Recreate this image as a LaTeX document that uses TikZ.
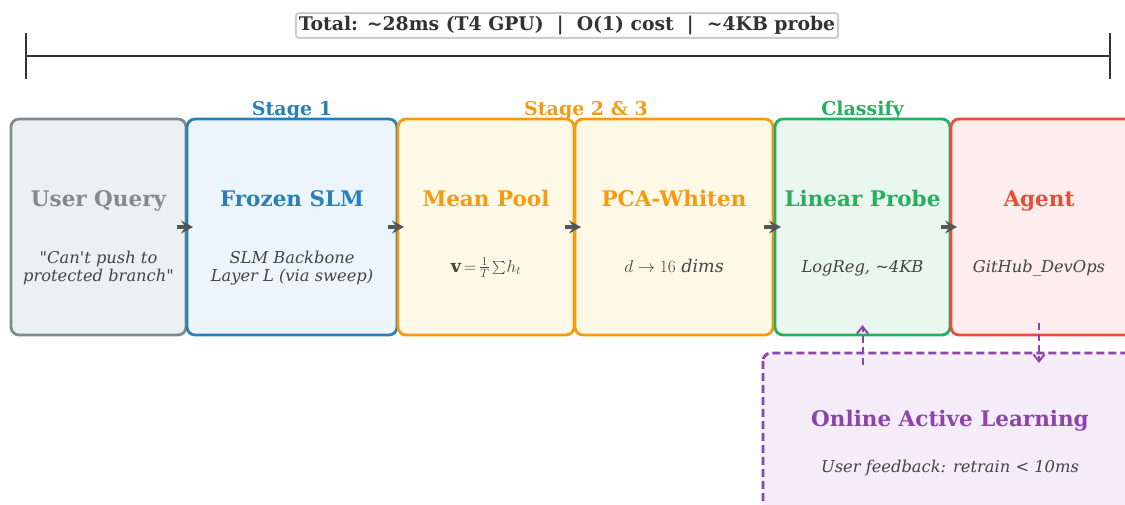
\documentclass[tikz,border=0pt]{standalone}
\usepackage{fontspec}
\setmainfont{DejaVu Serif}
\usetikzlibrary{arrows.meta}
\definecolor{cgray}{HTML}{7F8C8D}\definecolor{fgray}{HTML}{ECF0F1}
\definecolor{cblue}{HTML}{2980B9}\definecolor{fblue}{HTML}{EBF5FB}
\definecolor{corange}{HTML}{F39C12}\definecolor{forange}{HTML}{FEF9E7}
\definecolor{cgreen}{HTML}{27AE60}\definecolor{fgreen}{HTML}{E9F7EF}
\definecolor{cred}{HTML}{E74C3C}\definecolor{fred}{HTML}{FDEDEC}
\definecolor{cpurple}{HTML}{8E44AD}\definecolor{fpurple}{HTML}{F4ECF7}
\definecolor{ctext}{HTML}{444444}\definecolor{cdark}{HTML}{333333}
\definecolor{carrow}{HTML}{555555}
\tikzset{
  stagebox/.style={draw=#1, line width=2.8pt, rounded corners=8pt, inner sep=0pt},
  ttl/.style={font=\fontsize{21.5}{25}\selectfont\bfseries, text=#1, anchor=base},
  sub/.style={font=\fontsize{16.3}{18.4}\selectfont\itshape, text=ctext, align=center, anchor=base},
  mth/.style={font=\fontsize{17.5}{20}\selectfont, text=ctext, anchor=base},
  stagelbl/.style={font=\fontsize{19}{22}\selectfont\bfseries, text=#1, anchor=base},
  flow/.style={-{Stealth[length=12pt,width=13pt,inset=4.5pt]}, line width=3.2pt, draw=carrow},
  fb/.style={-{Straight Barb[length=7pt,width=11pt]}, line width=2pt, draw=cpurple, dash pattern=on 7pt off 4pt}
}
\begin{document}
\begin{tikzpicture}[x=1pt,y=-1pt]
\useasboundingbox (0,0) rectangle (1125,504);
\clip (0,0) rectangle (1125,504);
% boxes
\path[stagebox=cgray, fill=fgray] (11,119) rectangle (186,335);
\path[stagebox=cblue, fill=fblue] (187,119) rectangle (397,335);
\path[stagebox=corange, fill=forange] (398,119) rectangle (574,335);
\path[stagebox=corange, fill=forange] (575,119) rectangle (773,335);
\path[stagebox=cgreen, fill=fgreen] (775,119) rectangle (950,335);
\path[stagebox=cred, fill=fred] (951,119) rectangle (1140,335);
\path[stagebox=cpurple, fill=fpurple, dash pattern=on 8pt off 4pt] (763,353) rectangle (1150,530);
% anchor coordinates
\coordinate (qE) at (186,227); \coordinate (sW) at (187,227);
\coordinate (sE) at (397,227); \coordinate (mW) at (398,227);
\coordinate (mE) at (574,227); \coordinate (pW) at (575,227);
\coordinate (pE) at (773,227); \coordinate (lW) at (775,227);
\coordinate (lE) at (950,227); \coordinate (gW) at (951,227);
% titles
\node[ttl=cgray] (tq) at (98.5,206) {User Query};
\node[ttl=cblue] (ts) at (292,206) {Frozen SLM};
\node[ttl=corange] (tm) at (486,206) {Mean Pool};
\node[ttl=corange] (tp) at (674,206) {PCA-Whiten};
\node[ttl=cgreen] (tl) at (862.5,206) {Linear Probe};
\node[ttl=cred] (tg) at (1039,206) {Agent};
% subtitles
\node[sub] (uq) at (98.5,281.7) {\textquotedbl Can\textquotesingle t push to\\protected branch\textquotedbl};
\node[sub] (us) at (292,281.7) {SLM Backbone\\Layer L (via sweep)};
\node[mth] (um) at (486,272) {$\mathbf{v}\,{=}\,\frac{1}{T}\,\raisebox{-1.5pt}{\scalebox{1.3}{$\sum$}}h_t$};
\node[mth] (up) at (674,272) {$d\rightarrow16$ \textit{dims}};
\node[sub] (ul) at (862.5,272) {LogReg, \textasciitilde4KB};
\node[sub] (ug) at (1039,272) {GitHub\_DevOps};
% stage labels
\node[stagelbl=cblue] (st1) at (292,115) {Stage 1};
\node[stagelbl=corange] (st2) at (586,115) {Stage 2 \& 3};
\node[stagelbl=cgreen] (st3) at (862.5,115) {Classify};
% flow arrows
\draw[flow] ([xshift=-9]qE) -- ([xshift=6]sW);
\draw[flow] ([xshift=-9]sE) -- ([xshift=6]mW);
\draw[flow] ([xshift=-9]mE) -- ([xshift=6]pW);
\draw[flow] ([xshift=-9]pE) -- ([xshift=6]lW);
\draw[flow] ([xshift=-9]lE) -- ([xshift=6]gW);
% online learning
\node[ttl=cpurple] (ol) at (950,426) {Online Active Learning};
\node[sub] (olsub) at (950,472) {User feedback: retrain < 10ms};
\coordinate (upS) at (862.5,365); \coordinate (upE) at (862.5,325);
\coordinate (dnS) at (1039,323); \coordinate (dnE) at (1039,363);
\draw[fb] (upS) -- (upE);
\draw[fb] (dnS) -- (dnE);
% top bar
\coordinate (bl) at (26,56); \coordinate (br) at (1110,56);
\coordinate (blt) at (26,33); \coordinate (blb) at (26,79);
\coordinate (brt) at (1110,33); \coordinate (brb) at (1110,79);
\draw[cdark, line width=2pt] (bl) -- (br);
\draw[cdark, line width=2pt] (blt) -- (blb);
\draw[cdark, line width=2pt] (brt) -- (brb);
\node[draw=black!20, line width=2pt, fill=white, rounded corners=3pt, inner xsep=3pt, inner ysep=3pt,
  font=\fontsize{18.8}{22}\selectfont\bfseries, text=cdark] (tot) at (567,25.5)
  {Total: \textasciitilde28ms (T4 GPU) \ \textbar\ \ O(1) cost \ \textbar\ \ \textasciitilde4KB probe};
\end{tikzpicture}
\end{document}
